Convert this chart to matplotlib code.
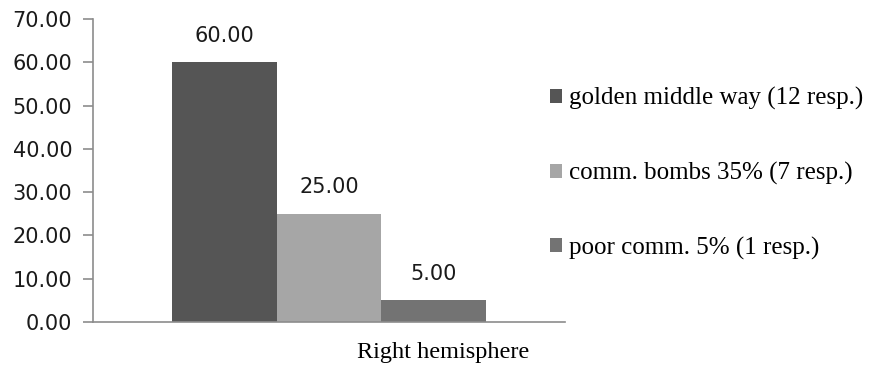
import matplotlib.pyplot as plt
from matplotlib.patches import Patch

# Survey results, right hemisphere group
categories = ['Right hemisphere']
series_names = ['golden middle way (12 resp.)',
                'comm. bombs 35% (7 resp.)',
                'poor comm. 5% (1 resp.)']
values = [60.00, 25.00, 5.00]
colors = ['#555555', '#a6a6a6', '#737373']
y_ticks = [0, 10, 20, 30, 40, 50, 60, 70]

axis_gray = '#8c8c8c'
sans = {'family': 'DejaVu Sans', 'color': '#1a1a1a', 'size': 15}
serif = {'family': 'Liberation Serif', 'color': 'black', 'size': 17.5}

fig = plt.figure(figsize=(8.72, 3.65), dpi=100)
ax = fig.add_axes([0.1067, 0.1178, 0.5413, 0.8302])

offsets = [-1, 0, 1]
for off, val, col, name in zip(offsets, values, colors, series_names):
    ax.bar(off, val, width=1.0, color=col, label=name)
    ax.text(off, val + 6.1, '%.2f' % val, ha='center', va='center', fontdict=sans)

ax.set_xlim(-2.25, 2.25)
ax.set_ylim(0, 70)
ax.set_yticks(y_ticks)
ax.set_yticklabels(['%.2f' % t for t in y_ticks], fontdict=sans)
ax.set_xticks([])

# Spines and ticks
for side in ['top', 'right']:
    ax.spines[side].set_visible(False)
for side in ['left', 'bottom']:
    ax.spines[side].set_color(axis_gray)
    ax.spines[side].set_linewidth(1.2)
ax.tick_params(axis='y', direction='out', length=7, width=1.2,
               color=axis_gray, pad=8)

# Category label under the bars
ax.text(1.09, -7.0, categories[0], ha='center', va='center', fontdict=serif,
        clip_on=False)

# Legend
handles = [Patch(facecolor=c, edgecolor='none') for c in colors]
lgd = fig.legend(handles, series_names, loc='center left',
                 bbox_to_anchor=(0.6307, 0.5247), frameon=False,
                 borderpad=0, borderaxespad=0,
                 prop={'family': 'Liberation Serif', 'size': 18},
                 handlelength=0.5, handleheight=0.5, handletextpad=0.25,
                 labelspacing=2.06)

fig.savefig('out.png', dpi=100)
